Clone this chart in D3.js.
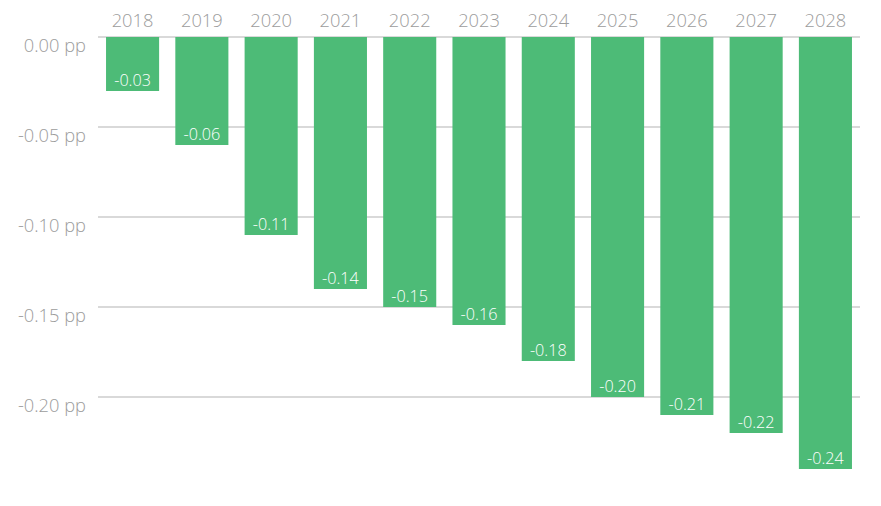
<!DOCTYPE html>
<html><head><meta charset="utf-8">
<script src="https://cdn.jsdelivr.net/npm/d3@7"></script>
<style>body{margin:0;background:#fff}svg{display:block}text{font-family:"Open Sans",sans-serif;font-weight:300}</style>
</head><body><svg id="c" width="881" height="506"></svg>
<script>
const years = ["2018","2019","2020","2021","2022","2023","2024","2025","2026","2027","2028"];
const values = [-0.03,-0.06,-0.11,-0.14,-0.15,-0.16,-0.18,-0.20,-0.21,-0.22,-0.24];
const yTicks = [0,-0.05,-0.10,-0.15,-0.20];

const svg = d3.select("#c");
const x = d3.scaleBand().domain(years).range([98,860]).paddingInner(0.234).paddingOuter(0.116);
const y = d3.scaleLinear().domain([-0.24,0]).range([469,37]);

svg.append("g").selectAll("line").data(yTicks).join("line")
  .attr("x1",98).attr("x2",860).attr("y1",d=>y(d)).attr("y2",d=>y(d))
  .attr("stroke","#b3b3b3").attr("stroke-width",1.2);

svg.append("g").selectAll("text").data(yTicks).join("text")
  .attr("x",86).attr("y",d=>y(d)+14.5).attr("text-anchor","end")
  .attr("fill","#9c9c9c").attr("font-size",18.3)
  .text(d=>d3.format(".2f")(d).replace("−","-")+" pp");

svg.append("g").selectAll("text").data(years).join("text")
  .attr("x",d=>x(d)+x.bandwidth()/2).attr("y",27).attr("text-anchor","middle")
  .attr("fill","#9c9c9c").attr("font-size",18.3).text(d=>d);

svg.append("g").selectAll("rect").data(values).join("rect")
  .attr("x",(d,i)=>x(years[i])).attr("width",x.bandwidth())
  .attr("y",y(0)).attr("height",d=>y(d)-y(0)).attr("fill","#4dbb77");

svg.append("g").selectAll("text").data(values).join("text")
  .attr("x",(d,i)=>x(years[i])+x.bandwidth()/2).attr("y",d=>y(d)-5.5)
  .attr("text-anchor","middle").attr("fill","#fff").attr("font-size",16.2)
  .text(d=>d3.format(".2f")(d).replace("−","-"));
</script></body></html>
